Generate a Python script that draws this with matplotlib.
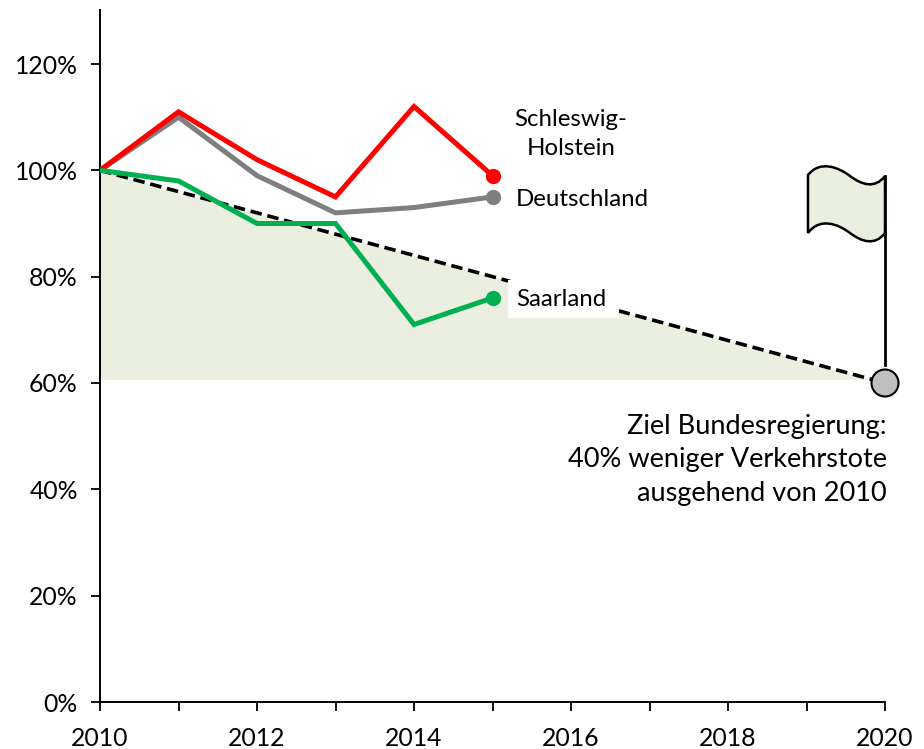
import matplotlib
matplotlib.use('Agg')
import matplotlib.pyplot as plt
from matplotlib.patches import PathPatch, Rectangle, Circle
from matplotlib.path import Path
from matplotlib.ticker import FixedLocator, FuncFormatter

plt.rcParams['font.family'] = ['Lato', 'DejaVu Sans']

years = [2010, 2011, 2012, 2013, 2014, 2015]
schleswig_holstein = [100, 111, 102, 95, 112, 99]
deutschland = [100, 110, 99, 92, 93, 95]
saarland = [100, 98, 90, 90, 71, 76]
target_years = [2010, 2020]
target_values = [100, 60]
fill_floor = 60.7
y_ticks = [0, 20, 40, 60, 80, 100, 120]
x_ticks = [2010, 2012, 2014, 2016, 2018, 2020]
x_minor = [2011, 2013, 2015, 2017, 2019]

W, H = 924, 749
fig = plt.figure(figsize=(W / 100, H / 100), dpi=100)
L, R, T, B = 100, 885, 10, 702
ax = fig.add_axes([L / W, 1 - B / H, (R - L) / W, (B - T) / H])
ax.set_xlim(2010, 2020)
ax.set_ylim(0, (B - T) / ((B - 64) / 120))
for s in ('top', 'right'):
    ax.spines[s].set_visible(False)
for s in ('left', 'bottom'):
    ax.spines[s].set_linewidth(1.4)
ax.patch.set_alpha(0)

FS = 17.8
ax.xaxis.set_major_locator(FixedLocator(x_ticks))
ax.xaxis.set_minor_locator(FixedLocator(x_minor))
ax.yaxis.set_major_locator(FixedLocator(y_ticks))
ax.yaxis.set_major_formatter(FuncFormatter(lambda v, p: f'{v:.0f}%'))
ax.tick_params(axis='both', which='both', length=6.5, width=1.3, labelsize=FS, colors='black')
ax.tick_params(axis='x', pad=11.5)
ax.tick_params(axis='y', pad=9.5)

ax.fill_between(target_years, target_values, fill_floor,
                color='#EBEFE0', lw=0, zorder=1)
ax.plot(target_years, target_values, color='black', lw=2.6,
        dashes=(3.2, 1.6), zorder=2)


def px(x, y):
    return (x / W, 1 - y / H)


fig_tr = fig.transFigure
ax.add_patch(Rectangle(px(508, 318), 111 / W, 38 / H, transform=fig_tr,
                       facecolor='white', edgecolor='none', zorder=3, clip_on=False))

for vals, col in [(deutschland, '#7F7F7F'), (schleswig_holstein, '#FF0000'), (saarland, '#00B050')]:
    ax.plot(years, vals, color=col, lw=3.6, zorder=4, solid_joinstyle='miter')
    ax.plot(years[-1], vals[-1], 'o', color=col, ms=11, mew=0, zorder=5, clip_on=False)

# flag
verts = [(808, 175), (820, 160), (838, 167), (850, 176), (862, 185), (875, 189), (885, 176),
         (885, 233), (875, 246), (862, 242), (850, 233), (838, 224), (820, 217), (808, 233), (808, 175)]
codes = [Path.MOVETO] + [Path.CURVE4] * 6 + [Path.LINETO] + [Path.CURVE4] * 6 + [Path.CLOSEPOLY]
ax.add_patch(PathPatch(Path([px(*v) for v in verts], codes), transform=fig_tr,
                       facecolor='#EBEFE0', edgecolor='black', lw=1.8, zorder=6, clip_on=False))
ax.plot(*zip(px(885, 176), px(885, 365)), transform=fig_tr, color='black', lw=2.0, zorder=6, clip_on=False)
ax.add_patch(Circle((885, H - 383), 13.5, transform=None, facecolor='#BFBFBF',
                    edgecolor='black', lw=1.5, zorder=7, clip_on=False))

TS = 17.3
fig.text(*px(571, 134), 'Schleswig-\nHolstein', fontsize=TS, ha='center', va='center', linespacing=1.5, zorder=8)
fig.text(*px(516, 199), 'Deutschland', fontsize=TS, ha='left', va='center', zorder=8)
fig.text(*px(516, 300), 'Saarland', fontsize=TS, ha='left', va='center', zorder=8)
fig.text(*px(887, 460), 'Ziel Bundesregierung:\n40% weniger Verkehrstote\nausgehend von 2010',
         fontsize=19.5, ha='right', va='center', linespacing=1.44, zorder=8)

fig.savefig('out.png', dpi=100)
